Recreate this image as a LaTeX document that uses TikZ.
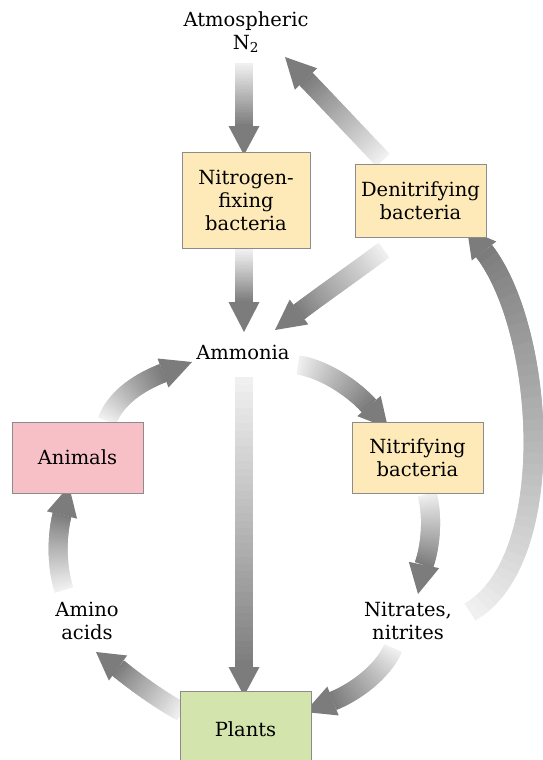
\documentclass[tikz,border=0pt]{standalone}
\usepackage{fontspec}
\setmainfont{DejaVu Serif}
\usetikzlibrary{calc}
\definecolor{alight}{RGB}{240,240,240}
\definecolor{adark}{RGB}{124,124,124}
\definecolor{byellow}{RGB}{253,234,184}
\definecolor{bpink}{RGB}{247,192,198}
\definecolor{bgreen}{RGB}{211,228,173}
\definecolor{bline}{RGB}{140,140,140}
% gradient arrow: #1 start, #2 c1, #3 c2, #4 head base, #5 tip, #6 shaft width, #7 head half width
\newcommand\gradarrow[7]{%
  \foreach \k [evaluate=\k as \tp using \k/40] in {0,...,40}{
    \path #1 .. controls #2 and #3 .. #4 coordinate[pos=\tp] (ga\k);
  }
  \foreach \k [evaluate=\k as \kn using int(\k+1), evaluate=\k as \knn using int(\k+2), evaluate=\k as \pc using int(100*\k/39)] in {0,...,38}{
    \draw[line width=#6, adark!\pc!alight, line cap=butt, line join=round] (ga\k) -- (ga\kn) -- (ga\knn);
  }
  \draw[line width=#6, adark, line cap=butt] (ga39) -- (ga40);
  \fill[adark] #5 -- ($#4!#7!90:#5$) -- ($#4!#7!-90:#5$) -- cycle;
}
\tikzset{
  every node/.style={font=\fontsize{19.5}{23}\selectfont, align=center},
  cbox/.style={draw=bline, line width=1pt, inner sep=0pt},
}
\begin{document}
\begin{tikzpicture}[x=1pt,y=-1pt]
\useasboundingbox (0,0) rectangle (543,760);
\clip (0,0) rectangle (543,760);
\fill[white] (0,0) rectangle (543,760);

% arrows
\gradarrow{(244,63)}{(244,85)}{(244,105)}{(244,126)}{(244,155)}{18pt}{15.5pt}
\gradarrow{(244,249)}{(244,270)}{(244,285)}{(244,302)}{(244,332)}{18pt}{15.5pt}
\gradarrow{(383,160)}{(360,136)}{(330,104)}{(306,79)}{(285,57)}{18pt}{15.5pt}
\gradarrow{(384,250)}{(360,268)}{(320,296)}{(299,312)}{(275,330)}{18pt}{15.5pt}
\gradarrow{(244,377)}{(244,480)}{(244,580)}{(244,667)}{(244,696)}{18pt}{15.5pt}
\gradarrow{(107,421)}{(115,400)}{(135,384)}{(163,373)}{(192,362)}{19pt}{15.5pt}
\gradarrow{(64,590)}{(56,565)}{(57,535)}{(62,515)}{(69,486)}{19pt}{15.5pt}
\gradarrow{(182,712)}{(160,700)}{(135,682)}{(118,668)}{(96,652)}{19pt}{15.5pt}
\gradarrow{(298,365)}{(320,368)}{(350,385)}{(369,406)}{(388,428)}{19pt}{15.5pt}
\gradarrow{(427,494)}{(433,515)}{(431,545)}{(424,565)}{(418,594)}{19pt}{15.5pt}
\gradarrow{(393,648)}{(385,668)}{(360,690)}{(333,701)}{(305,712)}{19pt}{15.5pt}
\gradarrow{(470,612)}{(560,560)}{(545,330)}{(484,251)}{(467,229)}{20pt}{15.5pt}

% boxes
\node[cbox, fill=byellow, minimum width=128pt, minimum height=96pt] (nfb) at (246,200) {Nitrogen-\\fixing\\bacteria};
\node[cbox, fill=byellow, minimum width=131pt, minimum height=73pt] (den) at (420.5,200.5) {Denitrifying\\bacteria};
\node[cbox, fill=byellow, minimum width=131pt, minimum height=71pt] (nit) at (417.5,457.5) {Nitrifying\\bacteria};
\node[cbox, fill=bpink, minimum width=131pt, minimum height=71pt] (ani) at (77.5,457.5) {Animals};
\node[cbox, fill=bgreen, minimum width=131pt, minimum height=76pt] (pla) at (245.5,729) {Plants};

% labels
\node (atm) at (246,32) {Atmospheric\\N\textsubscript{2}};
\node (amm) at (243,352) {Ammonia};
\node (ami) at (87,621) {Amino\\acids};
\node (nitr) at (408,621) {Nitrates,\\nitrites};
\end{tikzpicture}
\end{document}
